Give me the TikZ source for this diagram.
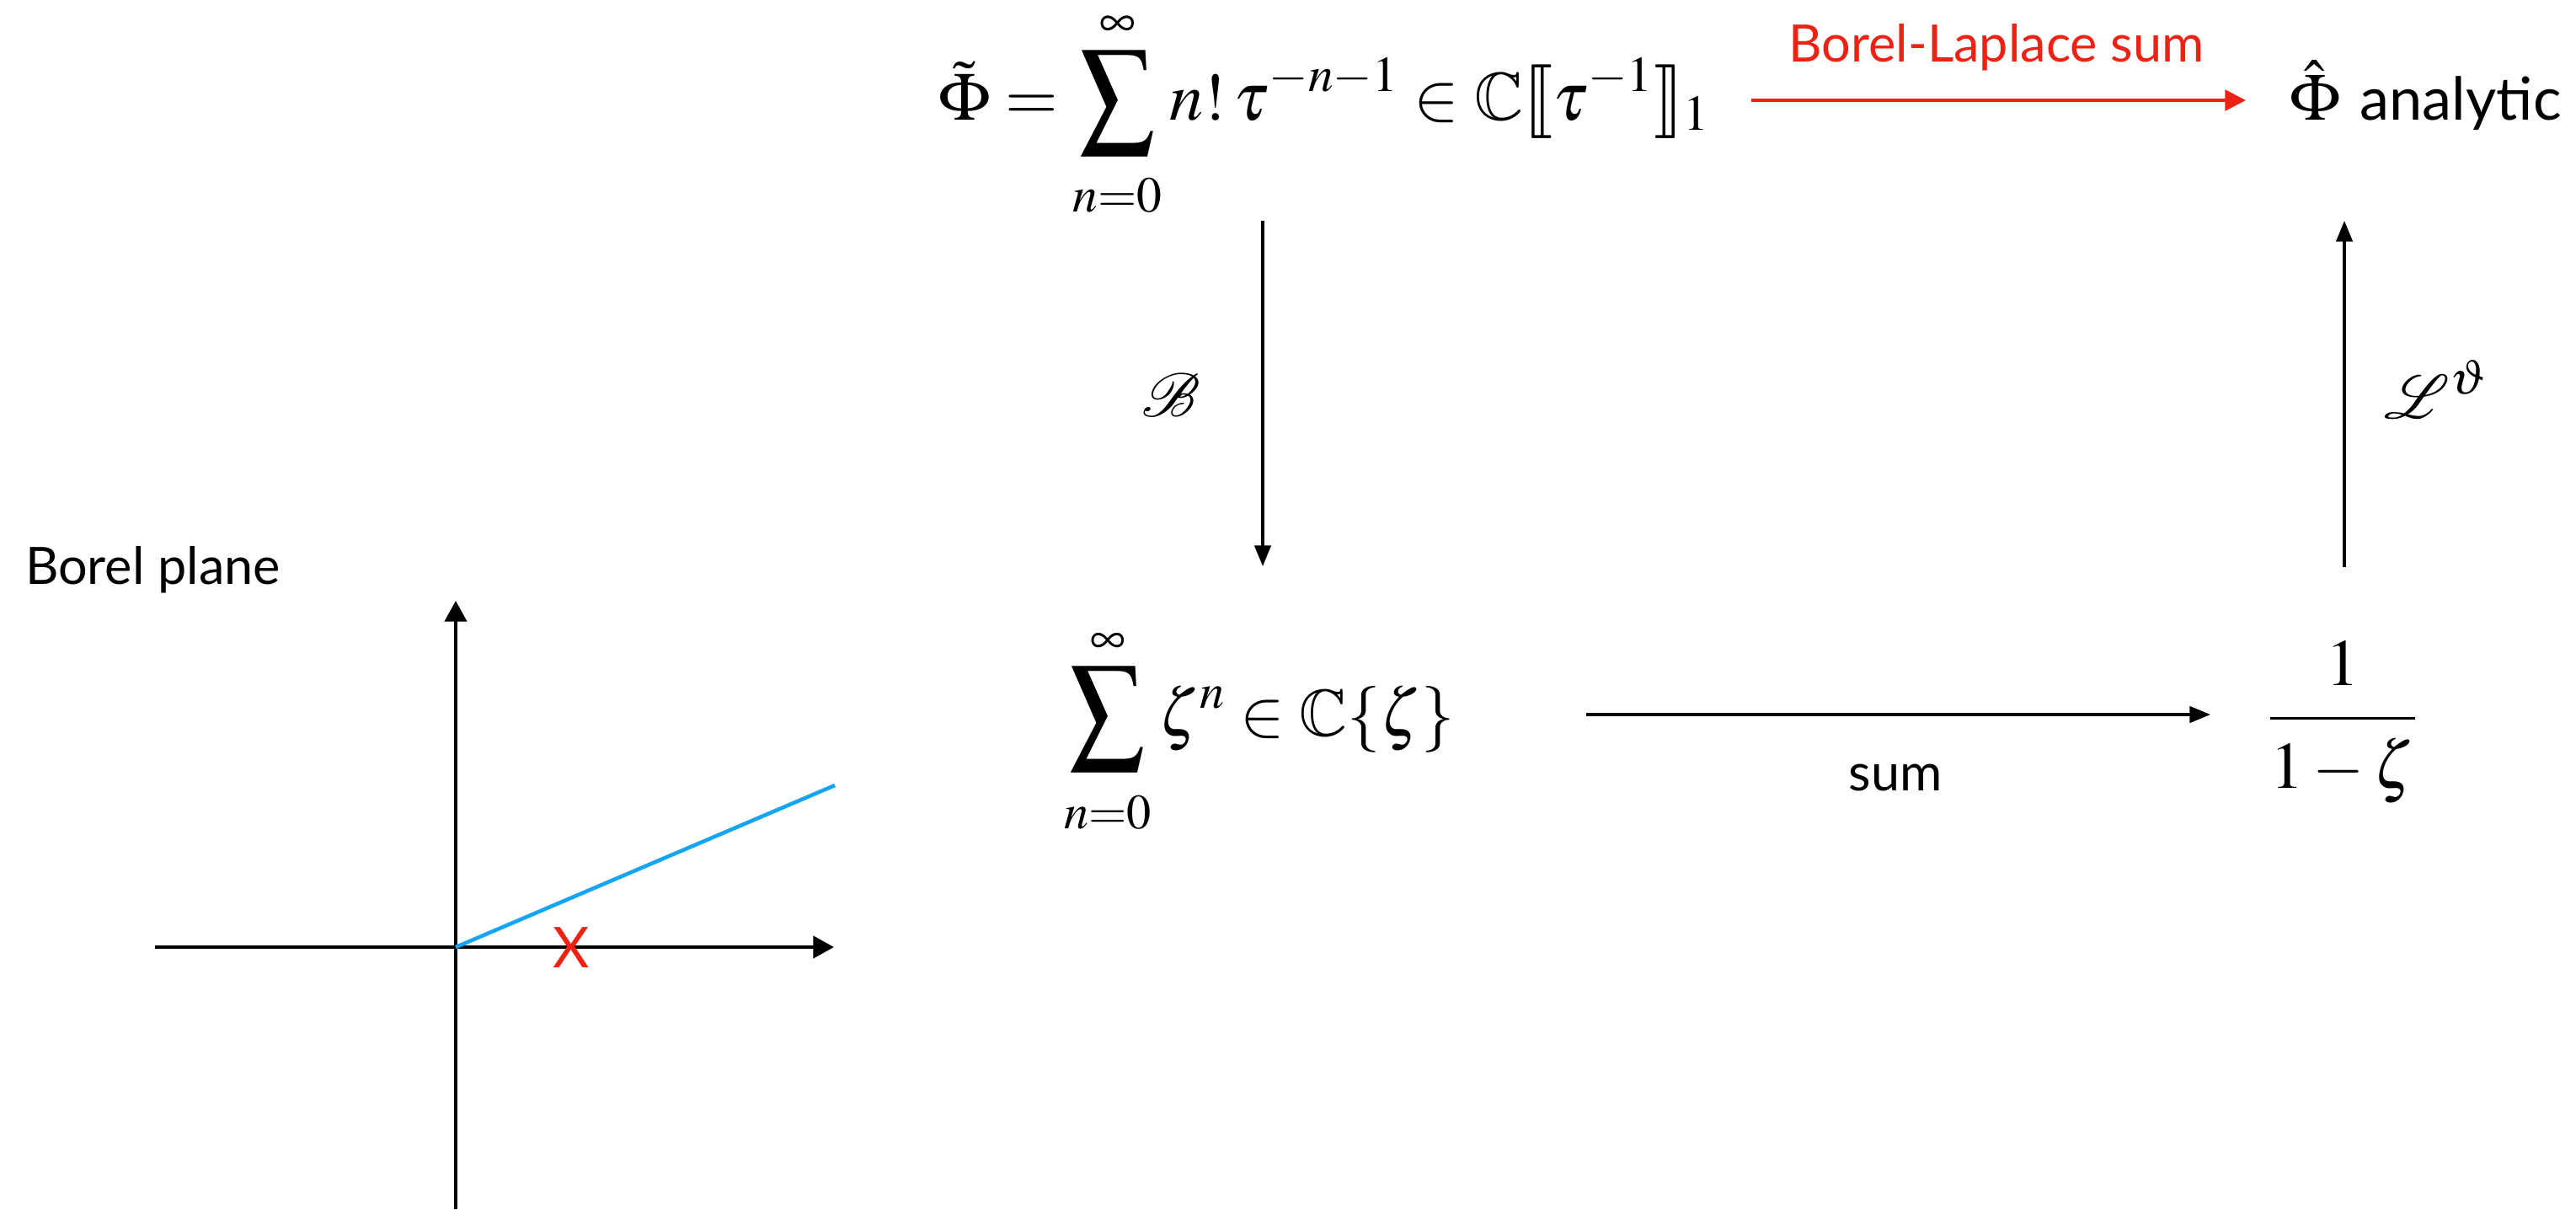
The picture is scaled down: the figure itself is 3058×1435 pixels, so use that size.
\documentclass[tikz,border=0pt]{standalone}
\usepackage{amsmath}
\usepackage{graphicx}
\IfFileExists{mathptmx.sty}{\usepackage{mathptmx}}{}
\IfFileExists{amssymb.sty}{\usepackage{amssymb}}{}
\IfFileExists{mathrsfs.sty}{\usepackage{mathrsfs}}{\providecommand{\mathscr}{\mathcal}}
\IfFileExists{stmaryrd.sty}{\usepackage{stmaryrd}}{\providecommand{\llbracket}{[\![}\providecommand{\rrbracket}{]\!]}}
\providecommand{\mathbb}{\mathbf}
\usepackage[no-math]{fontspec}
\newfontfamily\gill{Lato}
\usetikzlibrary{arrows.meta}
\definecolor{kred}{RGB}{236,34,20}
\definecolor{kblue}{RGB}{20,165,245}
\newcommand{\bigmath}{\fontsize{22.4}{27}\selectfont}
\newcommand{\topmath}{\fontsize{22.9}{27}\selectfont}
\newcommand{\lblsz}{\fontsize{17.4}{21}\selectfont}
\newcommand{\bigsum}{\mathop{\vcenter{\hbox{\resizebox*{25.6pt}{35.3pt}{$\displaystyle\sum$}}}}\limits}
\tikzset{
  lab/.style={inner sep=0pt, outer sep=0pt},
  axisarr/.style={line width=1.2pt, -{Triangle[length=7pt,width=7.4pt]}},
  maparr/.style={line width=0.9pt, -{Triangle[length=7pt,width=5.5pt]}},
  redarr/.style={kred, line width=1pt, -{Triangle[length=7pt,width=7pt]}},
}
\begin{document}
\begin{tikzpicture}[x=0.01cm,y=-0.01cm]
\useasboundingbox (0,0) rectangle (3058,1435);
% top row
\node[lab, anchor=base west] (phit) at (1114,142) {\topmath $\displaystyle \tilde\Phi = \bigsum_{\rule{0pt}{15.5pt}n=0}^{\infty} n!\,\tau^{-n-1}\in\mathbb{C}\llbracket\tau^{-1}\rrbracket_1$};
\node[lab, anchor=base west] (phih) at (2718,142) {\bigmath $\hat\Phi$\hspace{0.3em}{\gill\fontsize{20}{24}\selectfont analytic}};
\node[lab, anchor=base, text=kred] (bls) at (2370,73) {\gill\lblsz Borel-Laplace sum};
% bottom row
\node[lab, anchor=base west] (zser) at (1263,873) {\bigmath $\displaystyle\bigsum_{\rule{0pt}{15.5pt}n=0}^{\infty}\zeta^n\in\mathbb{C}\{\zeta\}$};
\node[lab, anchor=base] (frac) at (2781,872) {\bigmath $\displaystyle\frac{\raisebox{1.4pt}{$1$}}{\raisebox{-2.8pt}{$1-\zeta$}}$};
\node[lab, anchor=base] (sumlab) at (2250,938) {\gill\lblsz sum};
% side labels
\node[lab] (blab) at (1390,469) {\bigmath $\mathscr{B}$};
\node[lab] (llab) at (2892,462) {\bigmath $\mathscr{L}^{\vartheta}$};
% connector ends
\coordinate (ra) at (2079,119);
\coordinate (rb) at (2666,119);
\coordinate (da) at (1499,262);
\coordinate (db) at (1499,672);
\coordinate (ua) at (2783,673);
\coordinate (ub) at (2783,262);
\coordinate (sa) at (1883,848);
\coordinate (sb) at (2624,848);
\draw[redarr] (ra) -- (rb);
\draw[maparr] (da) -- (db);
\draw[maparr] (ua) -- (ub);
\draw[maparr] (sa) -- (sb);
% Borel plane
\node[lab, anchor=base west] (bp) at (30,693) {\gill\lblsz Borel plane};
\coordinate (o) at (541,1124);
\coordinate (xl) at (184,1124);
\coordinate (xr) at (990,1124);
\coordinate (yb) at (541,1435);
\coordinate (yt) at (541,713);
\coordinate (ray) at (991,932);
\draw[axisarr] (xl) -- (xr);
\draw[axisarr] (yb) -- (yt);
\draw[kblue, line width=1.3pt] (o) -- (ray);
\node[lab, text=kred] (sing) at (678,1125) {\gill\fontsize{19}{22}\selectfont X};
\end{tikzpicture}
\end{document}
